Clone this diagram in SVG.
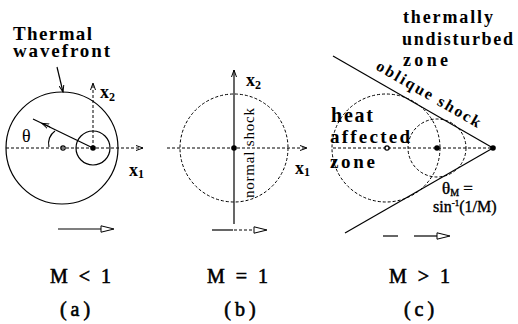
<svg xmlns="http://www.w3.org/2000/svg" width="518" height="324" viewBox="0 0 518 324">
<style>
.ln{fill:none;stroke:#000;stroke-width:1.2}
.ds{fill:none;stroke:#000;stroke-width:1;stroke-dasharray:3 2}
.mono{font-family:"Liberation Serif","Times New Roman",serif;font-weight:bold;fill:#000}
.ser{font-family:"Liberation Serif","Times New Roman",serif;fill:#000}
.ax{font-family:"Liberation Serif","Times New Roman",serif;font-weight:bold;font-size:18px;fill:#000}
.cap{font-family:"Liberation Serif","Times New Roman",serif;font-size:20px;fill:#000;stroke:#000;stroke-width:0.6}
</style>
<defs>
<marker id="ah" markerWidth="8" markerHeight="6" refX="7" refY="3" orient="auto" markerUnits="userSpaceOnUse">
<path d="M0,0.5 L7,3 L0,5.5" fill="none" stroke="#000" stroke-width="1"/>
</marker>
<marker id="tri" markerWidth="16" markerHeight="9" refX="1" refY="4" orient="auto" markerUnits="userSpaceOnUse">
<path d="M1,0.8 L14,4 L1,7.2 Z" fill="#fff" stroke="#000" stroke-width="1"/>
</marker>
</defs>

<g id="panel-a">
<circle class="ln" cx="62" cy="148" r="56"/>
<circle class="ln" cx="93" cy="148" r="17"/>
<circle cx="63" cy="148" r="2.2" fill="#fff" stroke="#000" stroke-width="1.2"/>
<circle cx="93" cy="148" r="2.8" fill="#000"/>
<text class="mono" x="13" y="40" font-size="19" textLength="79" lengthAdjust="spacing">Thermal</text>
<text class="mono" x="13" y="57" font-size="19" textLength="97" lengthAdjust="spacing">wavefront</text>
<text class="ser" x="22" y="142" font-size="18">θ</text>
<text class="ax" x="129" y="176">x<tspan font-size="12" dy="2">1</tspan></text>
<text class="ax" x="100" y="98">x<tspan font-size="12" dy="3">2</tspan></text>
<text class="cap" x="82" y="283" text-anchor="middle" letter-spacing="3">M &lt; 1</text>
<text class="cap" x="77" y="316" text-anchor="middle" letter-spacing="4">(a)</text>
</g>

<g id="panel-b">
<circle class="ds" cx="234" cy="148" r="54"/>
<circle cx="234" cy="148" r="2.8" fill="#000"/>
<text class="ser" transform="translate(254,198) rotate(-90)" font-size="15" textLength="90" lengthAdjust="spacing">normal shock</text>
<text class="ax" x="246" y="86">x<tspan font-size="12" dy="3">2</tspan></text>
<text class="ax" x="295" y="174">x<tspan font-size="12" dy="2">1</tspan></text>
<text class="cap" x="239" y="283" text-anchor="middle" letter-spacing="3">M = 1</text>
<text class="cap" x="242" y="316" text-anchor="middle" letter-spacing="4">(b)</text>
</g>

<g id="panel-c">
<circle class="ds" cx="386" cy="148" r="54"/>
<circle class="ds" cx="437" cy="148" r="29"/>
<circle cx="387" cy="148" r="2.2" fill="#fff" stroke="#000" stroke-width="1.2"/>
<circle cx="437" cy="148" r="2.8" fill="#000"/>
<circle cx="493" cy="148" r="2.8" fill="#000"/>
<text class="mono" x="403" y="23" font-size="18" textLength="90" lengthAdjust="spacing">thermally</text>
<text class="mono" x="402" y="45" font-size="18" textLength="111" lengthAdjust="spacing">undisturbed</text>
<text class="mono" x="403" y="66" font-size="18" textLength="45" lengthAdjust="spacing">zone</text>
<text class="mono" x="331" y="122" font-size="20" textLength="42" lengthAdjust="spacing">heat</text>
<text class="mono" x="330" y="143" font-size="19" textLength="80" lengthAdjust="spacing">affected</text>
<text class="mono" x="330" y="168" font-size="19" textLength="45" lengthAdjust="spacing">zone</text>
<text class="mono" transform="translate(375,69) rotate(30)" font-size="16" textLength="118" lengthAdjust="spacing">oblique shock</text>
<text class="ser" x="442" y="194" font-size="17" stroke="#000" stroke-width="0.4">θ<tspan font-size="10" dy="2">M</tspan><tspan dy="-2"> =</tspan></text>
<text class="ser" x="433" y="212" font-size="16" stroke="#000" stroke-width="0.4">sin<tspan font-size="9" dy="-6">-1</tspan><tspan dy="6">(1/M)</tspan></text>
<text class="cap" x="421" y="283" text-anchor="middle" letter-spacing="3">M &gt; 1</text>
<text class="cap" x="421" y="316" text-anchor="middle" letter-spacing="4">(c)</text>
</g>

<g id="connectors">
<line class="ds" x1="6" y1="148" x2="143" y2="148" marker-end="url(#ah)"/>
<line class="ds" x1="93" y1="148" x2="93" y2="83" marker-end="url(#ah)"/>
<line class="ln" x1="93" y1="148" x2="33" y2="119" stroke-width="1"/>
<line class="ln" x1="50" y1="127" x2="42" y2="123.3" stroke-width="1" marker-end="url(#ah)"/>
<path class="ln" d="M49,147 A15,15 0 0 1 55,131" stroke-width="1"/>
<line class="ln" x1="57" y1="67" x2="63" y2="92" stroke-width="1" marker-end="url(#ah)"/>
<line class="ln" x1="58" y1="229" x2="101" y2="229" stroke-width="0.8" marker-end="url(#tri)"/>
<line class="ln" x1="234" y1="224" x2="234" y2="70" stroke-width="1.3" marker-end="url(#ah)"/>
<line class="ds" x1="167" y1="148" x2="307" y2="148" marker-end="url(#ah)"/>
<line class="ln" x1="212" y1="230" x2="233" y2="230" stroke-width="0.8"/>
<line class="ds" x1="234" y1="230" x2="254" y2="230" marker-end="url(#tri)"/>
<line class="ds" x1="333" y1="148" x2="493" y2="148"/>
<line class="ln" x1="333" y1="56" x2="493" y2="148" stroke-width="1.4"/>
<line class="ln" x1="493" y1="148" x2="345" y2="233" stroke-width="1.4"/>
<line class="ln" x1="383" y1="236" x2="398" y2="236" stroke-width="0.8"/>
<line class="ln" x1="414" y1="236" x2="437" y2="236" stroke-width="0.8" marker-end="url(#tri)"/>
</g>
</svg>
